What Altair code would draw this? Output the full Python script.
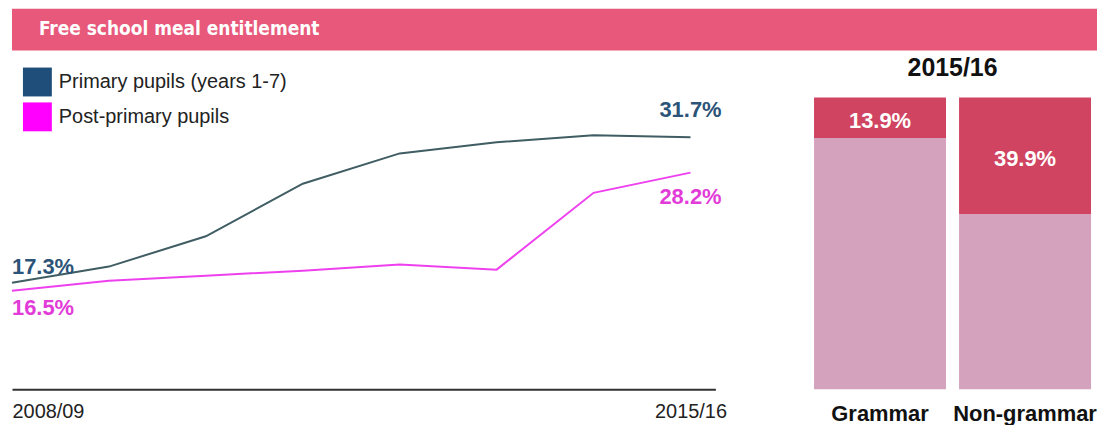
import altair as alt
import pandas as pd

# ---------------- data ----------------
title_text = "Free school meal entitlement"
years = ["2008/09", "2009/10", "2010/11", "2011/12", "2012/13", "2013/14", "2014/15", "2015/16"]
primary = [17.3, 18.9, 21.9, 27.1, 30.1, 31.2, 31.9, 31.7]
post_primary = [16.5, 17.5, 18.0, 18.5, 19.1, 18.6, 26.2, 28.2]
series_names = ["Primary pupils (years 1-7)", "Post-primary pupils"]

bar_title = "2015/16"
school_types = ["Grammar", "Non-grammar"]
fsm_share = [13.9, 39.9]

# ---------------- styles ----------------
FONT = "Liberation Sans, Arial, sans-serif"
HEAD_FONT = "DejaVu Sans Condensed, Liberation Sans, sans-serif"
header_color = "#E8587A"
line_colors = ["#3F5D63", "#EE40EE"]
legend_colors = ["#1F4E7A", "#FF00FF"]
label_colors = ["#2C5378", "#E23CD8"]
fsm_red = "#D04462"
rest_pink = "#D5A2BE"

rows = []
for i, yr in enumerate(years):
    rows.append({"i": i, "year": yr, "series": series_names[0], "value": primary[i]})
    rows.append({"i": i, "year": yr, "series": series_names[1], "value": post_primary[i]})
line_df = pd.DataFrame(rows)

last = len(years) - 1
x_enc = alt.X(
    "i:Q",
    scale=alt.Scale(domain=[0, 7.257], nice=False, zero=False),
    axis=alt.Axis(
        title=None, grid=False, ticks=False, values=[0, last],
        labelExpr=f"datum.value == 0 ? '{years[0]}' : '{years[-1]}'",
        domainColor="#333333", domainWidth=2,
        labelFont=FONT, labelFontSize=20, labelColor="#222222",
        labelPadding=12, labelFlush=True,
    ),
)
y_enc = alt.Y("value:Q", scale=alt.Scale(domain=[6.75, 35.64], nice=False, zero=False), axis=None)

lines = alt.Chart(line_df).mark_line(strokeWidth=2).encode(
    x=x_enc, y=y_enc,
    stroke=alt.Stroke("series:N", scale=alt.Scale(domain=series_names, range=line_colors), legend=None),
)

legend_layer = (
    alt.Chart(line_df)
    .transform_calculate(key="datum.series")
    .mark_point(shape="square", filled=True, size=0, opacity=1)
    .encode(
        x=x_enc, y=y_enc,
        fill=alt.Fill(
            "key:N",
            scale=alt.Scale(domain=series_names, range=legend_colors),
            legend=alt.Legend(
                title=None, orient="none", legendX=11, legendY=-30,
                symbolType="square", symbolSize=841, symbolOpacity=1, symbolStrokeWidth=0,
                labelFont=FONT, labelFontSize=20, labelColor="#222222",
                labelOffset=7, rowPadding=6, padding=0, labelLimit=400,
            ),
        ),
    )
)


def end_label(series_idx, idx, align, dy):
    return (
        alt.Chart(line_df)
        .transform_filter((alt.datum.series == series_names[series_idx]) & (alt.datum.i == idx))
        .transform_calculate(label="format(datum.value, '.1f') + '%'")
        .mark_text(align=align, baseline="middle", dy=dy, font=FONT, fontSize=22,
                   fontWeight="bold", color=label_colors[series_idx])
        .encode(x=x_enc, y=y_enc, text="label:N")
    )


line_chart = alt.layer(
    lines, legend_layer,
    end_label(0, 0, "left", -16),
    end_label(1, 0, "left", 17),
    end_label(0, last, "center", -27),
    end_label(1, last, "center", 25),
).properties(width=706, height=293).resolve_legend(fill="independent")

# ---------------- bars ----------------
bar_rows = []
for t, v in zip(school_types, fsm_share):
    bar_rows.append({"type": t, "part": "Other", "value": 100 - v, "ord": 0})
    bar_rows.append({"type": t, "part": "FSME", "value": v, "ord": 1})
bar_df = pd.DataFrame(bar_rows)
lab_df = pd.DataFrame({"type": school_types, "share": fsm_share})

bx = alt.X(
    "type:N", sort=school_types,
    scale=alt.Scale(paddingInner=0.09, paddingOuter=0),
    axis=alt.Axis(title=None, labelAngle=0, domain=False, ticks=False,
                  labelFont=FONT, labelFontSize=22, labelFontWeight="bold",
                  labelColor="#111111", labelPadding=14),
)
bar_y_scale = alt.Scale(domain=[0, 100], nice=False)

bars = alt.Chart(bar_df).mark_bar().encode(
    x=bx,
    y=alt.Y("value:Q", stack="zero", scale=bar_y_scale, axis=None),
    color=alt.Color("part:N", scale=alt.Scale(domain=["Other", "FSME"], range=[rest_pink, fsm_red]), legend=None),
    order=alt.Order("ord:Q", sort="ascending"),
)
bar_text = (
    alt.Chart(lab_df)
    .transform_calculate(mid="100 - datum.share / 2", label="format(datum.share, '.1f') + '%'")
    .mark_text(color="white", font=FONT, fontSize=22, fontWeight="bold", baseline="middle", dy=3)
    .encode(x=bx, y=alt.Y("mid:Q", scale=bar_y_scale, axis=None), text="label:N")
)
bar_chart = alt.layer(bars, bar_text).properties(
    width=278, height=293,
    title=alt.TitleParams(bar_title, font=FONT, fontSize=25, fontWeight="bold",
                          color="#111111", offset=17, anchor="middle"),
)

# ---------------- header ----------------
head_df = pd.DataFrame({"t": [title_text]})
header = alt.Chart(head_df).mark_text(
    align="left", baseline="middle", font=HEAD_FONT, fontSize=19, fontWeight="bold", color="white"
).encode(x=alt.value(27), y=alt.value(20), text="t:N").properties(
    width=1089, height=42, view=alt.ViewBackground(fill=header_color, strokeWidth=0)
)

body = alt.hconcat(line_chart, bar_chart, spacing=99, bounds="flush").resolve_legend(fill="independent")

chart = alt.vconcat(
    header, body, spacing=47, bounds="flush",
).resolve_legend(fill="independent").properties(padding=0).configure_view(strokeWidth=0)

chart.save("out.html", embed_options={"renderer": "svg", "actions": False})
